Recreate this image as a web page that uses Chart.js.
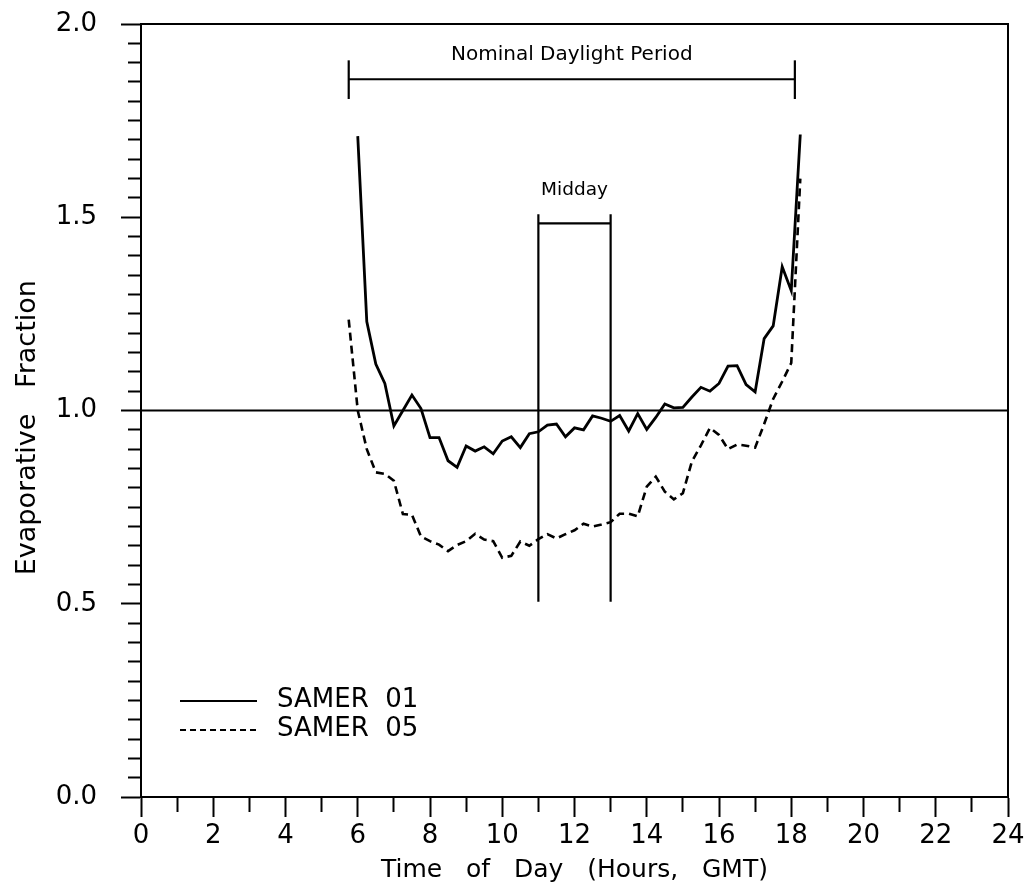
<!DOCTYPE html>
<html>
<head>
<meta charset="utf-8">
<title>Evaporative Fraction</title>
<script src="https://cdn.jsdelivr.net/npm/chart.js@4.4.1/dist/chart.umd.min.js"></script>
<style>
  html, body { margin: 0; padding: 0; background: #fff; }
  #wrap { width: 1030px; height: 888px; }
</style>
</head>
<body>
<div id="wrap"><canvas id="chart" width="1030" height="888"></canvas></div>
<script>
// Time of day (hours, GMT), 15 minute samples
const hours = [5.75, 6.0, 6.25, 6.5, 6.75, 7.0, 7.25, 7.5, 7.75, 8.0, 8.25, 8.5, 8.75,
  9.0, 9.25, 9.5, 9.75, 10.0, 10.25, 10.5, 10.75, 11.0, 11.25, 11.5, 11.75,
  12.0, 12.25, 12.5, 12.75, 13.0, 13.25, 13.5, 13.75, 14.0, 14.25, 14.5, 14.75,
  15.0, 15.25, 15.5, 15.75, 16.0, 16.25, 16.5, 16.75, 17.0, 17.25, 17.5, 17.75,
  18.0, 18.25];

// Evaporative fraction, SAMER 01 (solid) - no sample at 5.75
const samer01 = [null, 1.71, 1.23, 1.12, 1.07, 0.96, 1.0, 1.04, 1.005, 0.93, 0.93, 0.87, 0.853,
  0.908, 0.895, 0.906, 0.888, 0.921, 0.932, 0.904, 0.94, 0.945, 0.962, 0.965, 0.932,
  0.955, 0.95, 0.986, 0.98, 0.972, 0.987, 0.947, 0.992, 0.951, 0.982, 1.017, 1.007,
  1.008, 1.035, 1.06, 1.05, 1.07, 1.115, 1.116, 1.067, 1.048, 1.186, 1.219, 1.372,
  1.31, 1.714];

// Evaporative fraction, SAMER 05 (dashed)
const samer05 = [1.235, 1.0, 0.9, 0.84, 0.836, 0.818, 0.732, 0.73, 0.674, 0.662, 0.653, 0.636, 0.652,
  0.662, 0.681, 0.666, 0.662, 0.619, 0.624, 0.661, 0.65, 0.667, 0.68, 0.669, 0.68,
  0.69, 0.707, 0.70, 0.705, 0.711, 0.733, 0.733, 0.726, 0.803, 0.829, 0.79, 0.77,
  0.786, 0.868, 0.91, 0.955, 0.937, 0.9, 0.912, 0.909, 0.904, 0.965, 1.03, 1.075,
  1.123, 1.6];

const seriesNames = ['SAMER  01', 'SAMER  05'];

// annotations
const unityX = [0, 24];
const unityY = 1.0;
const daylightPeriod = [5.75, 18.1];
const daylightBarY = 1.857;
const daylightCapY = [1.806, 1.906];
const daylightLabelY = 1.92;
const middayPeriod = [11, 13];
const middayBarY = 1.484;
const middayLineY = [0.505, 1.508];
const middayLabelY = 1.57;

Chart.defaults.font.family = "'DejaVu Sans', sans-serif";
Chart.defaults.color = '#000';

function toPoints(xs, ys) {
  return xs.map((x, i) => ({ x: x, y: ys[i] }));
}

function segment(x1, y1, x2, y2) {
  return {
    label: '',
    data: [{ x: x1, y: y1 }, { x: x2, y: y2 }],
    borderColor: '#000',
    borderWidth: 2.2,
    pointRadius: 0,
    fill: false
  };
}

function isHalf(v) {
  return Math.abs(v * 2 - Math.round(v * 2)) < 1e-6;
}

// top and right edges of the plot box
const framePlugin = {
  id: 'frame',
  afterDatasetsDraw(chart) {
    const a = chart.chartArea;
    const ctx = chart.ctx;
    ctx.save();
    ctx.strokeStyle = '#000';
    ctx.lineWidth = 2;
    ctx.beginPath();
    ctx.moveTo(a.left, a.top);
    ctx.lineTo(a.right, a.top);
    ctx.lineTo(a.right, a.bottom);
    ctx.stroke();
    ctx.restore();
  }
};

// period labels and the legend inside the plot
const labelPlugin = {
  id: 'labels',
  afterDatasetsDraw(chart) {
    const ctx = chart.ctx;
    const xs = chart.scales.x;
    const ys = chart.scales.y;
    const a = chart.chartArea;
    ctx.save();
    ctx.fillStyle = '#000';
    ctx.textAlign = 'center';
    ctx.textBaseline = 'middle';
    ctx.font = "20px 'DejaVu Sans', sans-serif";
    ctx.fillText('Nominal Daylight Period',
      xs.getPixelForValue((daylightPeriod[0] + daylightPeriod[1]) / 2), ys.getPixelForValue(daylightLabelY));
    ctx.font = "18.5px 'DejaVu Sans', sans-serif";
    ctx.fillText('Midday',
      xs.getPixelForValue((middayPeriod[0] + middayPeriod[1]) / 2), ys.getPixelForValue(middayLabelY));

    // legend
    const dashes = [[], [6, 4]];
    ctx.textAlign = 'left';
    ctx.font = "26px 'DejaVu Sans', sans-serif";
    seriesNames.forEach((name, i) => {
      const y = a.bottom - 96 + i * 29;
      ctx.strokeStyle = '#000';
      ctx.lineWidth = 2.2;
      ctx.setLineDash(dashes[i]);
      ctx.beginPath();
      ctx.moveTo(a.left + 39, y);
      ctx.lineTo(a.left + 116, y);
      ctx.stroke();
      ctx.setLineDash([]);
      ctx.fillText(name, a.left + 136, y - 1);
    });
    ctx.restore();
  }
};

const datasets = [
  {
    label: seriesNames[0],
    data: toPoints(hours, samer01),
    borderColor: '#000',
    borderWidth: 2.8,
    pointRadius: 0,
    fill: false
  },
  {
    label: seriesNames[1],
    data: toPoints(hours, samer05),
    borderColor: '#000',
    borderWidth: 2.6,
    borderDash: [8, 5],
    pointRadius: 0,
    fill: false
  },
  segment(unityX[0], unityY, unityX[1], unityY),
  segment(daylightPeriod[0], daylightCapY[0], daylightPeriod[0], daylightCapY[1]),
  segment(daylightPeriod[1], daylightCapY[0], daylightPeriod[1], daylightCapY[1]),
  segment(daylightPeriod[0], daylightBarY, daylightPeriod[1], daylightBarY),
  segment(middayPeriod[0], middayLineY[0], middayPeriod[0], middayLineY[1]),
  segment(middayPeriod[1], middayLineY[0], middayPeriod[1], middayLineY[1]),
  segment(middayPeriod[0], middayBarY, middayPeriod[1], middayBarY)
];

new Chart(document.getElementById('chart'), {
  type: 'line',
  data: { datasets: datasets },
  options: {
    responsive: false,
    animation: false,
    devicePixelRatio: 1,
    layout: { padding: { top: 24, right: 22, left: 0, bottom: 0 } },
    plugins: { legend: { display: false }, tooltip: { enabled: false } },
    scales: {
      x: {
        type: 'linear',
        min: 0,
        max: 24,
        afterFit(scale) {
          scale.height = 91;
          scale.paddingLeft = 0;
          scale.paddingRight = 0;
        },
        border: { display: true, color: '#000', width: 2 },
        grid: {
          drawOnChartArea: false,
          tickLength: 20,
          tickColor: '#000',
          tickWidth: 2,
          tickBorderDash: ctx => (ctx.tick && ctx.tick.value % 2 !== 0) ? [14, 100] : []
        },
        ticks: {
          stepSize: 1,
          autoSkip: false,
          maxRotation: 0,
          padding: 4,
          font: { size: 26 },
          color: '#000',
          callback: v => (v % 2 === 0 ? String(v) : '')
        },
        title: {
          display: true,
          text: 'Time   of   Day   (Hours,   GMT)',
          font: { size: 25 },
          padding: { top: 0, bottom: 3 }
        }
      },
      y: {
        type: 'linear',
        min: 0,
        max: 2,
        afterFit(scale) {
          scale.width = 141;
          scale.paddingTop = 0;
          scale.paddingBottom = 0;
        },
        border: { display: true, color: '#000', width: 2 },
        grid: {
          drawOnChartArea: false,
          tickLength: 20,
          tickColor: '#000',
          tickWidth: 2,
          tickBorderDash: ctx => (ctx.tick && !isHalf(ctx.tick.value)) ? [0, 7, 13, 100] : []
        },
        ticks: {
          stepSize: 0.05,
          autoSkip: false,
          padding: 24,
          font: { size: 26 },
          color: '#000',
          callback: v => (isHalf(v) ? v.toFixed(1) : '')
        },
        title: {
          display: true,
          text: 'Evaporative   Fraction    ',
          font: { size: 27 },
          padding: { top: 12, bottom: 0 }
        }
      }
    }
  },
  plugins: [framePlugin, labelPlugin]
});
</script>
</body>
</html>
